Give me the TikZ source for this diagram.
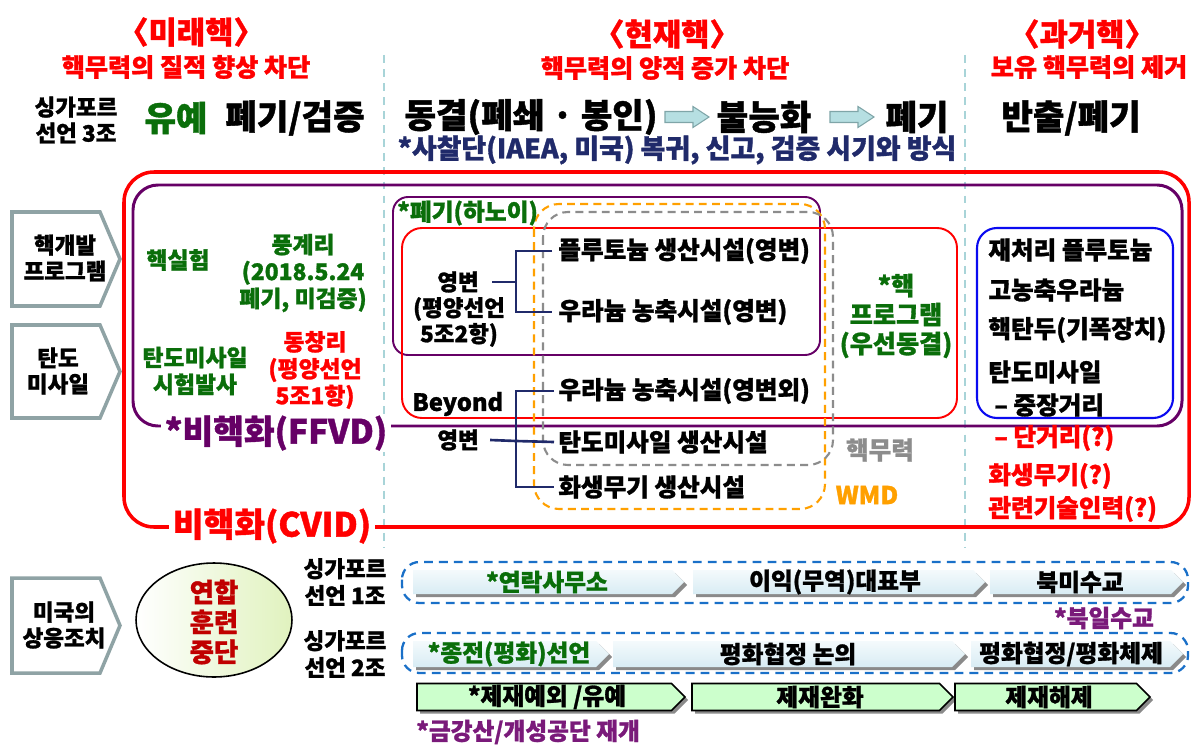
\documentclass[tikz,border=0pt]{standalone}
\usepackage{fontspec}
\setmainfont{Noto Sans CJK KR}[BoldFeatures={FakeBold=1.2}]
\usetikzlibrary{shapes.geometric}
\definecolor{kred}{HTML}{FF0000}
\definecolor{kdarkred}{HTML}{C00000}
\definecolor{kgreen}{HTML}{0A6E0A}
\definecolor{kpurple}{HTML}{660066}
\definecolor{kpurple2}{HTML}{7A1A7A}
\definecolor{knavy}{HTML}{202A6A}
\definecolor{korange}{HTML}{FFA000}
\definecolor{kgrey}{HTML}{8C8C8C}
\definecolor{kblue}{HTML}{0A0AF0}
\definecolor{kdash}{HTML}{1A70C8}
\definecolor{kteal}{HTML}{8FA3A5}
\definecolor{kvline}{HTML}{A8D4D8}
\definecolor{karrow}{HTML}{B6DFE2}
\definecolor{karrowd}{HTML}{7FA5A8}
\definecolor{klgreen}{HTML}{CCFFCC}
\definecolor{kltop}{HTML}{F4FAFC}
\definecolor{klbot}{HTML}{D8ECF4}
\definecolor{kshadow}{HTML}{8A8A8A}
\definecolor{kell}{HTML}{E0F2BE}
\newcommand{\fz}[2]{\fontsize{#1}{#2}\selectfont\bfseries}
% chevron: left x, tip x, centre y, half height, style
\newcommand{\chev}[5]{%
  \fill[kshadow] ({#1+3},{#3-#4+3}) -- ({#2-#4+3},{#3-#4+3}) -- ({#2+3},{#3+3}) -- ({#2-#4+3},{#3+#4+3}) -- ({#1+3},{#3+#4+3}) -- cycle;
  \path[#5] (#1,{#3-#4}) -- ({#2-#4},{#3-#4}) -- (#2,#3) -- ({#2-#4},{#3+#4}) -- (#1,{#3+#4}) -- cycle;}
% block arrow: x1, x2, y
\newcommand{\barrow}[3]{%
  \path[barr] (#1,{#3-5.5}) -- ({#2-16},{#3-5.5}) -- ({#2-16},{#3-10.5}) -- (#2,#3) -- ({#2-16},{#3+10.5}) -- ({#2-16},{#3+5.5}) -- (#1,{#3+5.5}) -- cycle;}
% pentagon: top y, bottom y
\newcommand{\pent}[2]{%
  \draw[pentst] (12,#1) -- (100,#1) -- (120,{(#1+#2)/2}) -- (100,#2) -- (12,#2) -- cycle;}
\begin{document}
\begin{tikzpicture}[x=0.02cm,y=-0.02cm,
  every node/.style={inner sep=0pt, align=center},
  head/.style={text=kred, font=\fz{17.5}{20}},
  subhead/.style={text=kred, font=\fz{14.3}{16}},
  big/.style={font=\fz{19.5}{22}},
  mid/.style={font=\fz{12.8}{14.8}},
  gtxt/.style={text=kgreen, font=\fz{13}{15.3}},
  item/.style={font=\fz{14}{16}, anchor=west},
  lbl/.style={font=\fz{19}{22}, fill=white, inner xsep=2pt, inner ysep=1pt},
  vline/.style={kvline, line width=1.3pt, dash pattern=on 4.5pt off 3.5pt},
  barr/.style={fill=karrow, draw=karrowd, line width=0.6pt},
  pentst/.style={fill=white, draw=kteal, line width=2pt, line join=miter},
  bracket/.style={knavy, line width=1.5pt},
  rowbox/.style={kdash, line width=1.3pt, dash pattern=on 5pt off 3.5pt, rounded corners=0.35cm},
  lchev/.style={top color=kltop, bottom color=klbot},
  gchev/.style={fill=klgreen, draw=black, line width=0.9pt},
  ctxt/.style={font=\fz{13.5}{15}},
]
\useasboundingbox (0,0) rectangle (1192,753);
\fill[white] (0,0) rectangle (1192,753);

% column separators
\draw[vline] (384,55) -- (384,548);
\draw[vline] (965,55) -- (965,548);

% headings
\node[head] (h1) at (191,32) {〈미래핵〉};
\node[subhead] (s1) at (186,67) {핵무력의 질적 향상 차단};
\node[head] (h2) at (667,34) {〈현재핵〉};
\node[subhead] (s2) at (665,68) {핵무력의 양적 증가 차단};
\node[head] (h3) at (1082,34) {〈과거핵〉};
\node[subhead] (s3) at (1089,67) {보유 핵무력의 제거};

% top row
\node[font=\fz{12.8}{14.8}] (sg3) at (76,120) {싱가포르\\선언 3조};
\node[big, text=kgreen] (yuye) at (176,118) {유예};
\node[big] (pgjz) at (295,118) {폐기/검증};
\node[big] (dongg) at (531,117) {동결(폐쇄 · 봉인)};
\barrow{665}{709}{117}
\node[big] (bulnh) at (764,117) {불능화};
\barrow{830}{874}{117}
\node[big] (pgi) at (917,117) {폐기};
\node[big] (banch) at (1071,118) {반출/폐기};
\node[font=\fz{15.3}{17}, text=knavy] (insp) at (677,150) {*사찰단(IAEA, 미국) 복귀, 신고, 검증 시기와 방식};

% left pentagons
\pent{212}{306}
\node[mid] (L1) at (65,258) {핵개발\\프로그램};
\pent{325}{418}
\node[mid] (L2) at (58,371) {탄도\\미사일};
\pent{578}{673}
\node[mid] (L3) at (64,625) {미국의\\상응조치};

% big frames
\draw[kred, line width=2pt, rounded corners=0.6cm] (124,172) rectangle (1189,527);
\draw[kpurple, line width=1.7pt, rounded corners=0.5cm] (133,185) rectangle (1182,426);
\draw[kpurple, line width=1.1pt, rounded corners=0.3cm] (393,197) rectangle (820,355);
\draw[kred, line width=1.1pt, rounded corners=0.4cm] (402,228) rectangle (957,418);
\draw[korange, line width=1.2pt, dash pattern=on 4.5pt off 3pt, rounded corners=0.5cm] (534,204) rectangle (825,509);
\draw[kgrey, line width=1.2pt, dash pattern=on 4.5pt off 3pt, rounded corners=0.5cm] (543,212) rectangle (833,465);
\draw[kblue, line width=1.2pt, rounded corners=0.4cm] (977,228) rectangle (1173,418);

\node[lbl, text=kred] (cvid) at (272,526) {비핵화(CVID)};
\node[lbl, text=kpurple] (ffvd) at (276,433) {*비핵화(FFVD)};

% left column contents
\node[gtxt] (hsh) at (178,260) {핵실험};
\node[gtxt] (pgr) at (303,273) {풍계리\\(2018.5.24\\폐기, 미검증)};
\node[gtxt] (tdm) at (195,371) {탄도미사일\\시험발사};
\node[font=\fz{13}{15.3}, text=kred] (dcr) at (315,370) {동창리\\(평양선언\\5조1항)};

% middle contents
\node[font=\fz{13.5}{15}, text=kgreen, anchor=west] (hanoi) at (397,213) {*폐기(하노이)};
\node[mid] (yb1) at (458,282) {영변};
\node[mid] (yb1b) at (459,322) {(평양선언\\5조2항)};
\node[font=\fz{13.5}{15}, anchor=west] (beyond) at (412,404) {Beyond};
\node[mid] (yb2) at (458,440) {영변};
\node[item] (p1) at (558,251) {플루토늄 생산시설(영변)};
\node[item] (p2) at (558,312) {우라늄 농축시설(영변)};
\node[item] (p3) at (558,391) {우라늄 농축시설(영변외)};
\node[item] (p4) at (558,442) {탄도미사일 생산시설};
\node[item] (p5) at (558,487) {화생무기 생산시설};
\coordinate (j1) at (516,282);
\coordinate (j2) at (516,441);
\draw[bracket] ([xshift=0.26cm]yb1.east) -- (j1);
\draw[bracket] ([xshift=-0.12cm]p1.west) -| (j1) |- ([xshift=-0.12cm]p2.west);
\draw[bracket] ([xshift=0.22cm]yb2.east) -- (j2) -- ([xshift=-0.08cm]p4.west);
\draw[bracket] ([xshift=-0.08cm]p3.west) -| (j2) |- ([xshift=-0.08cm]p5.west);
\node[font=\fz{14.3}{16.5}, text=kgreen] (hprog) at (896,316) {*핵\\프로그램\\(우선동결)};
\node[font=\fz{14}{15}, text=kgrey] (hmr) at (880,450) {핵무력};
\node[font=\fz{14}{15}, text=korange] (wmd) at (867,495) {WMD};

% right column contents
\node[item] (r1) at (988,250) {재처리 플루토늄};
\node[item] (r2) at (988,290) {고농축우라늄};
\node[item] (r3) at (988,330) {핵탄두(기폭장치)};
\node[item] (r4) at (988,372) {탄도미사일};
\node[item] (r5) at (994,405) {– 중장거리};
\node[item, text=kred] (r6) at (994,438) {– 단거리(?)};
\node[item, text=kred] (r7) at (988,476) {화생무기(?)};
\node[item, text=kred] (r8) at (988,509) {관련기술인력(?)};

% bottom section
\node[ellipse, draw=black, line width=0.9pt, left color=white, right color=kell,
      minimum width=3.12cm, minimum height=2.28cm] (ell) at (214,620) {};
\node[font=\fz{15}{17}, text=kdarkred] (elltxt) at (214,622) {연합\\훈련\\중단};
\node[font=\fz{12.8}{15.3}] (sg1) at (345,582) {싱가포르\\선언 1조};
\node[font=\fz{12.8}{15.3}] (sg2) at (345,654) {싱가포르\\선언 2조};

\draw[rowbox] (402,562) rectangle (1188,603);
\draw[rowbox] (402,633) rectangle (1188,673);

\chev{413}{684}{582}{12}{lchev}
\chev{693}{985}{582}{12}{lchev}
\chev{990}{1183}{582}{12}{lchev}
\node[ctxt, text=kgreen] (c1) at (547,582) {*연락사무소};
\node[ctxt] (c2) at (835,582) {이익(무역)대표부};
\node[ctxt] (c3) at (1080,582) {북미수교};

\node[ctxt, text=kpurple2] (nj) at (1104,618) {*북일수교};

\chev{413}{609}{654}{13}{lchev}
\chev{613}{965}{654}{13}{lchev}
\chev{971}{1183}{654}{13}{lchev}
\node[ctxt, text=kgreen] (d1) at (509,654) {*종전(평화)선언};
\node[ctxt] (d2) at (788,654) {평화협정 논의};
\node[ctxt] (d3) at (1071,654) {평화협정/평화체제};

\chev{417}{685}{697}{13.5}{gchev}
\chev{692}{953}{697}{13.5}{gchev}
\chev{955}{1150}{697}{13.5}{gchev}
\node[ctxt] (e1) at (547,697) {*제재예외 /유예};
\node[ctxt] (e2) at (820,697) {제재완화};
\node[ctxt] (e3) at (1049,697) {제재해제};

\node[ctxt, text=kpurple2, anchor=west] (gks) at (416,732) {*금강산/개성공단 재개};
\end{tikzpicture}
\end{document}
